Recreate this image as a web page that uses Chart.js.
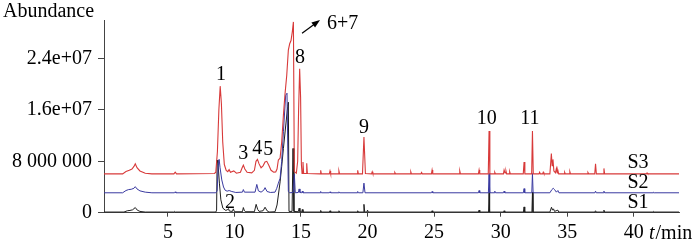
<!DOCTYPE html>
<html>
<head>
<meta charset="utf-8">
<script src="https://cdn.jsdelivr.net/npm/chart.js@4"></script>
<style>
  html, body { margin: 0; padding: 0; background: #fff; }
</style>
</head>
<body>
<canvas id="chart" width="700" height="242"></canvas>
<script>
// abundance values are in millions (x 1e6), times in minutes
const MIO = 1e6;

// S3 (red) trace: [t/min, abundance]
const s3Trace = [
  [0.2, 6.05], [1.6, 6.05], [1.85, 6.4], [2.1, 6.6], [2.3, 6.8], [2.45, 7.2], [2.55, 7.6], [2.68, 7.0], [2.9, 6.5], [3.3, 6.15], [3.8, 6.05],
  [5.45, 6.05], [5.55, 6.3], [5.65, 6.05],
  [8.5, 6.1], [8.6, 6.3], [8.72, 9.5], [8.83, 16], [8.93, 19.7], [9.02, 17], [9.12, 11], [9.24, 7.5], [9.38, 6.6], [9.5, 6.4], [9.6, 6.7], [9.7, 6.3],
  [9.95, 6.5], [10.15, 6.15], [10.45, 6.3], [10.58, 7.0], [10.67, 7.4], [10.78, 6.8], [10.95, 6.3], [11.3, 6.2], [11.5, 6.6], [11.62, 8.0], [11.73, 8.3],
  [11.85, 7.6], [12.0, 7.0], [12.15, 7.3], [12.3, 7.9], [12.43, 8.0], [12.58, 7.4], [12.75, 6.6], [12.95, 6.3], [13.1, 6.35], [13.2, 6.8], [13.3, 8.2],
  [13.43, 8.5], [13.55, 11], [13.68, 15.2], [13.8, 18.5], [13.93, 21.4], [14.05, 25.3], [14.15, 26.3], [14.25, 26.8], [14.35, 28.2], [14.43, 29.7],
  [14.5, 6.4], [14.65, 6.15], [14.75, 8], [14.82, 16], [14.9, 22.4], [14.97, 18], [15.03, 7.5], [15.08, 6.1], [15.15, 7.9], [15.2, 6.1],
  [15.38, 6.1], [15.43, 7.7], [15.48, 6.1],
  [16.43, 6.05], [16.48, 6.6], [16.53, 6.05], [17.13, 6.05], [17.18, 6.5], [17.23, 6.05], [17.8, 6.05], [17.85, 6.5], [17.9, 6.05],
  [19.21, 6.05], [19.26, 6.6], [19.31, 6.05], [19.62, 6.05], [19.73, 11.8], [19.84, 6.1], [20.3, 6.05], [20.35, 6.37], [20.4, 6.05],
  [22.0, 6.05], [22.05, 6.25], [22.1, 6.05], [23.2, 6.05], [23.25, 6.37], [23.3, 6.05], [24.01, 6.05], [24.06, 6.25], [24.11, 6.05],
  [24.8, 6.05], [24.85, 6.64], [24.9, 6.05], [26.88, 6.05], [26.93, 6.5], [26.98, 6.05], [28.33, 6.05], [28.38, 6.64], [28.43, 6.05],
  [29.07, 6.05], [29.13, 12.7], [29.19, 6.05], [29.51, 6.05], [29.56, 6.3], [29.61, 6.05],
  [30.21, 6.05], [30.26, 6.64], [30.33, 6.2], [30.4, 6.5], [30.45, 6.05], [30.63, 6.05], [30.68, 6.4], [30.73, 6.05],
  [31.7, 6.05], [31.76, 7.9], [31.82, 6.05], [32.33, 6.05], [32.39, 12.7], [32.45, 6.05],
  [32.88, 6.05], [32.93, 6.3], [32.98, 6.05], [33.15, 6.05], [33.2, 6.3], [33.25, 6.05],
  [33.7, 6.05], [33.81, 9.2], [33.87, 7.3], [33.93, 8.3], [34.0, 6.5], [34.12, 6.2], [34.19, 6.9], [34.25, 6.2], [34.3, 6.6], [34.36, 6.05],
  [34.76, 6.05], [34.81, 6.3], [34.86, 6.05], [35.15, 6.05], [35.2, 6.4], [35.25, 6.05], [36.51, 6.05], [36.56, 6.25], [36.61, 6.05],
  [37.07, 6.05], [37.13, 7.6], [37.19, 6.05], [37.71, 6.05], [37.76, 6.9], [37.81, 6.05], [40.95, 6.05], [41.0, 6.2], [41.05, 6.05],
  [43.4, 6.05]
];

// S2 (blue) trace
const s2Trace = [
  [0.2, 3.1], [1.6, 3.1], [1.85, 3.45], [2.05, 3.6], [2.25, 3.65], [2.45, 3.8], [2.55, 4.05], [2.68, 3.7], [2.9, 3.4], [3.3, 3.2], [3.8, 3.1],
  [5.5, 3.1], [5.55, 3.25], [5.6, 3.1],
  [8.6, 3.1], [8.7, 3.4], [8.78, 7.2], [8.85, 8.3], [8.92, 7.0], [9.05, 5.1], [9.18, 4.0], [9.3, 3.5], [9.45, 3.35], [9.6, 3.45], [9.8, 3.3],
  [10.1, 3.15], [10.6, 3.2], [10.67, 3.6], [10.75, 3.2], [11.55, 3.2], [11.68, 4.4], [11.8, 3.4], [12.0, 3.2], [12.2, 3.5], [12.3, 3.9],
  [12.45, 3.3], [12.7, 3.15], [13.05, 3.2], [13.18, 3.8], [13.3, 4.6], [13.43, 5.35], [13.55, 8], [13.68, 12.6], [13.85, 18.3], [13.95, 18.6],
  [14.05, 3.3], [14.15, 3.1], [14.42, 3.15], [14.5, 6.0], [14.57, 3.1], [14.8, 3.15], [14.86, 3.7], [14.92, 3.15], [15.05, 3.1], [15.1, 3.35], [15.15, 3.1],
  [16.43, 3.1], [16.48, 3.3], [16.53, 3.1], [17.13, 3.1], [17.18, 3.25], [17.23, 3.1], [17.8, 3.1], [17.85, 3.25], [17.9, 3.1],
  [19.21, 3.1], [19.26, 3.3], [19.31, 3.1], [19.65, 3.1], [19.73, 4.6], [19.81, 3.1],
  [24.8, 3.1], [24.85, 3.3], [24.9, 3.1], [28.33, 3.1], [28.38, 3.45], [28.43, 3.1], [29.08, 3.1], [29.13, 6.1], [29.18, 3.1],
  [29.51, 3.1], [29.56, 3.35], [29.61, 3.1], [30.21, 3.1], [30.26, 3.35], [30.31, 3.1], [31.71, 3.1], [31.76, 3.75], [31.81, 3.1],
  [32.34, 3.1], [32.39, 6.1], [32.44, 3.1],
  [33.7, 3.1], [33.85, 3.6], [33.95, 3.8], [34.05, 3.6], [34.19, 3.2], [34.3, 3.45], [34.38, 3.1],
  [37.08, 3.1], [37.13, 3.35], [37.18, 3.1], [37.71, 3.1], [37.76, 3.35], [37.81, 3.1], [41.45, 3.1], [41.5, 3.2], [41.55, 3.1],
  [43.4, 3.1]
];

// S1 (black) trace
const s1Trace = [
  [0.2, 0.1], [1.7, 0.1], [1.95, 0.3], [2.15, 0.35], [2.35, 0.45], [2.55, 0.8], [2.7, 0.4], [2.9, 0.2], [3.3, 0.1],
  [5.45, 0.1], [5.5, 0.2], [5.55, 0.1],
  [8.6, 0.1], [8.66, 0.4], [8.7, 8.2], [8.76, 7.8], [8.87, 4.6], [8.98, 2.0], [9.13, 0.7], [9.35, 0.35], [9.5, 0.5], [9.55, 0.65], [9.62, 0.25],
  [9.85, 0.2], [9.92, 0.6], [10.0, 0.15], [10.6, 0.15], [10.67, 0.8], [10.75, 0.3], [10.85, 0.15], [11.5, 0.15], [11.63, 1.3], [11.75, 0.5],
  [11.85, 0.2], [12.15, 0.3], [12.3, 0.85], [12.45, 0.3], [12.6, 0.1], [13.05, 0.15], [13.2, 1.2], [13.3, 2.75], [13.43, 4.8], [13.55, 7.2],
  [13.68, 10], [13.85, 13.5], [14.0, 16.5], [14.05, 17.2], [14.1, 0.2], [14.33, 0.2], [14.4, 10], [14.47, 0.2], [14.8, 0.15], [14.86, 0.7],
  [14.92, 0.15], [15.05, 0.1], [15.1, 0.5], [15.15, 0.1],
  [16.43, 0.1], [16.48, 0.35], [16.53, 0.1], [17.13, 0.1], [17.18, 0.3], [17.23, 0.1], [17.8, 0.1], [17.85, 0.3], [17.9, 0.1],
  [19.21, 0.1], [19.26, 0.3], [19.31, 0.1], [19.67, 0.1], [19.73, 1.3], [19.79, 0.1], [19.95, 0.1], [20.0, 0.4], [20.05, 0.1],
  [24.8, 0.1], [24.85, 0.3], [24.9, 0.1], [28.33, 0.1], [28.38, 0.4], [28.43, 0.1], [29.09, 0.1], [29.13, 3.2], [29.17, 0.1],
  [30.21, 0.1], [30.26, 0.3], [30.31, 0.1], [31.71, 0.1], [31.76, 0.9], [31.81, 0.1], [32.35, 0.1], [32.39, 3.2], [32.43, 0.1],
  [33.7, 0.1], [33.82, 0.85], [33.9, 0.4], [33.97, 0.6], [34.05, 0.2], [34.3, 0.4], [34.36, 0.1],
  [37.08, 0.1], [37.13, 0.3], [37.18, 0.1], [37.71, 0.1], [37.76, 0.4], [37.81, 0.1], [41.45, 0.1], [41.5, 0.2], [41.55, 0.1],
  [43.4, 0.1]
];

// peak numbers and where they sit (t, abundance in millions)
const peakText  = ['1', '2', '3', '4', '5', '8', '9', '10', '11', '6+7'];
const peakTime  = [8.99, 9.67, 10.67, 11.72, 12.54, 14.93, 19.73, 28.95, 32.2, 18.12];
const peakValue = [21.5, 1.59, 9.14, 10.03, 9.76, 24.19, 13.26, 14.59, 14.59, 29.48];

const seriesNames  = ['S3', 'S2', 'S1'];
const seriesLabelT = [40.32, 40.32, 40.32];
const seriesLabelV = [7.85, 4.62, 1.51];

const xTicks = [5, 10, 15, 20, 25, 30, 35, 40];
const yTicks = [0, 8e6, 1.6e7, 2.4e7];
const yTickLabels = ['0', '8 000 000', '1.6e+07', '2.4e+07'];

const FONT = '"Liberation Serif", "DejaVu Serif", serif';
const toXY = arr => arr.map(p => ({ x: p[0], y: p[1] * MIO }));

const textPlugin = {
    id: 'chromText',
    afterDraw(chart) {
        const { ctx, scales: { x, y } } = chart;
        ctx.save();
        ctx.fillStyle = '#000';
        ctx.font = '20px ' + FONT;
        ctx.textBaseline = 'middle';

        // y axis title
        ctx.textAlign = 'left';
        ctx.fillText('Abundance', 3, 12);

        ctx.textAlign = 'center';
        peakText.forEach((t, i) => {
            ctx.fillText(t, x.getPixelForValue(peakTime[i]), y.getPixelForValue(peakValue[i] * MIO));
        });
        seriesNames.forEach((t, i) => {
            ctx.fillText(t, x.getPixelForValue(seriesLabelT[i]), y.getPixelForValue(seriesLabelV[i] * MIO));
        });

        // arrow pointing to 6+7
        const x0 = x.getPixelForValue(15.08), y0 = y.getPixelForValue(27.93 * MIO);
        const x1 = x.getPixelForValue(16.43), y1 = y.getPixelForValue(30.0 * MIO);
        const ang = Math.atan2(y1 - y0, x1 - x0);
        ctx.strokeStyle = '#000';
        ctx.lineWidth = 1.2;
        ctx.beginPath();
        ctx.moveTo(x0, y0);
        ctx.lineTo(x1 - 5 * Math.cos(ang), y1 - 5 * Math.sin(ang));
        ctx.stroke();
        ctx.beginPath();
        ctx.moveTo(x1, y1);
        ctx.lineTo(x1 - 9 * Math.cos(ang - 0.35), y1 - 9 * Math.sin(ang - 0.35));
        ctx.lineTo(x1 - 9 * Math.cos(ang + 0.35), y1 - 9 * Math.sin(ang + 0.35));
        ctx.closePath();
        ctx.fill();

        // x axis unit after last tick
        const ty = chart.chartArea.bottom + 21;
        ctx.textAlign = 'left';
        ctx.font = 'italic 20px ' + FONT;
        ctx.fillText('t', 649, ty);
        const w = ctx.measureText('t').width;
        ctx.font = '20px ' + FONT;
        ctx.fillText('/min', 649 + w + 1, ty);
        ctx.restore();
    }
};

new Chart(document.getElementById('chart'), {
    type: 'line',
    data: {
        datasets: [
            { label: 'S3', data: toXY(s3Trace), borderColor: '#d83a3a', borderWidth: 1.1 },
            { label: 'S2', data: toXY(s2Trace), borderColor: '#3a3aa0', borderWidth: 1 },
            { label: 'S1', data: toXY(s1Trace), borderColor: '#1e1e1e', borderWidth: 1 }
        ]
    },
    options: {
        responsive: false,
        animation: false,
        events: [],
        elements: { point: { radius: 0 }, line: { tension: 0 } },
        layout: { padding: { top: 20, right: 21, left: 0, bottom: 0 } },
        plugins: { legend: { display: false }, tooltip: { enabled: false } },
        scales: {
            x: {
                type: 'linear',
                min: 0.2,
                max: 43.4,
                afterBuildTicks: s => { s.ticks = xTicks.map(v => ({ value: v })); },
                afterFit: s => { s.height = 29.3; },
                border: { color: '#444', width: 1 },
                grid: { drawOnChartArea: false, drawTicks: true, tickLength: 4, color: '#444' },
                ticks: { color: '#000', padding: 4, maxRotation: 0, font: { family: FONT, size: 20 }, callback: v => String(v) }
            },
            y: {
                min: 0,
                max: 3e7,
                afterBuildTicks: s => { s.ticks = yTicks.map(v => ({ value: v })); },
                afterFit: s => { s.width = 104; },
                border: { color: '#444', width: 1 },
                grid: { drawOnChartArea: false, drawTicks: true, tickLength: 6, color: '#444' },
                ticks: { color: '#000', padding: 6, font: { family: FONT, size: 20 }, callback: (v, i) => yTickLabels[i] }
            }
        }
    },
    plugins: [textPlugin]
});
</script>
</body>
</html>
